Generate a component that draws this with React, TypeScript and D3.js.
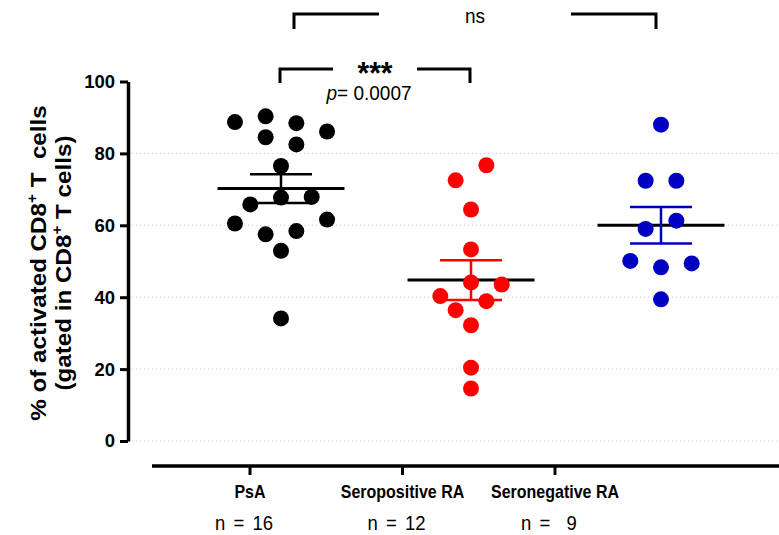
import { useEffect, useRef } from "react";
import * as d3 from "d3";

const groups = ["PsA", "Seropositive RA", "Seronegative RA"];
const groupSizes = ["n = 16", "n = 12", "n =  9"];
const groupColors = ["#000000", "#ff0000", "#0000c0"];

// values listed row by row, left to right, the way they sit in the scatter
const psaValues = [88.7, 90.3, 88.4, 86.1, 84.5, 82.5, 76.5, 65.8, 67.7, 67.9, 60.5, 57.5, 58.4, 61.6, 52.9, 34.1];
const seroPositiveValues = [72.5, 76.7, 64.4, 53.3, 40.3, 44.1, 43.5, 36.4, 38.9, 32.2, 20.4, 14.6];
const seroNegativeValues = [88.0, 72.4, 72.4, 59.0, 61.3, 50.1, 48.3, 49.4, 39.4];
const groupValues = [psaValues, seroPositiveValues, seroNegativeValues];

const yTicks = [0, 20, 40, 60, 80, 100];
const gridTicks = [0, 20, 40, 60, 80];

const WIDTH = 779;
const HEIGHT = 535;
const FONT = "'Liberation Sans', Arial, sans-serif";

// GraphPad-like scatter: bin into rows one dot high, spread each row symmetrically
const layoutScatter = (values, y, rowGap, colStep) => {
  const order = values.map((v, i) => ({ v, i })).sort((a, b) => b.v - a.v || a.i - b.i);
  const rows = [];
  order.forEach((item) => {
    const row = rows[rows.length - 1];
    if (row && y(item.v) - y(row[0].v) < rowGap) row.push(item);
    else rows.push([item]);
  });
  const out = [];
  rows.forEach((row) => {
    row.sort((a, b) => a.i - b.i);
    row.forEach((item, j) => out.push({ value: item.v, dx: (j - (row.length - 1) / 2) * colStep }));
  });
  return out;
};

export default function App() {
  const svgRef = useRef(null);

  useEffect(() => {
    if (!svgRef.current) return;
    const svg = d3.select(svgRef.current);
    svg.selectAll("*").remove();
    svg.attr("width", WIDTH).attr("height", HEIGHT).style("font-family", FONT);

    const y = d3.scaleLinear().domain([0, 100]).range([441, 81.5]);
    const x = d3.scalePoint().domain(groups).range([281, 661]);
    const xLabels = d3.scalePoint().domain(groups).range([250, 555]);
    const axisX = 128;
    const dotR = 8;

    // dotted grid
    svg
      .append("g")
      .selectAll("line")
      .data(gridTicks)
      .join("line")
      .attr("x1", axisX + 4)
      .attr("x2", WIDTH)
      .attr("y1", (t) => y(t))
      .attr("y2", (t) => y(t))
      .attr("stroke", "#d4d4d4")
      .attr("stroke-width", 1)
      .attr("stroke-dasharray", "1.3,2.7");

    // y axis
    svg
      .append("g")
      .attr("transform", `translate(${axisX},0)`)
      .call(d3.axisLeft(y).tickValues(yTicks).tickSize(8).tickSizeOuter(0).tickPadding(5))
      .call((g) => g.select("path").attr("stroke", "#000").attr("stroke-width", 3.5))
      .call((g) => g.selectAll("line").attr("stroke", "#000").attr("stroke-width", 3))
      .call((g) =>
        g
          .selectAll("text")
          .attr("fill", "#000")
          .attr("font-size", 18.5)
          .attr("font-weight", "bold")
          .attr("font-family", FONT)
      );

    // y title, two lines
    const title = svg
      .append("g")
      .attr("transform", `translate(0,263) rotate(-90) scale(1.1,1)`)
      .attr("font-weight", "bold")
      .attr("font-size", 22)
      .attr("text-anchor", "middle")
      .attr("fill", "#000");
    const line1 = title.append("text").attr("x", 0).attr("y", 46).attr("xml:space", "preserve");
    line1.append("tspan").text("% of activated CD8");
    line1.append("tspan").attr("font-size", 14).attr("dy", -9).text("+");
    line1.append("tspan").attr("dy", 9).text(" T  cells");
    const line2 = title.append("text").attr("x", 0).attr("y", 71);
    line2.append("tspan").text("(gated in CD8");
    line2.append("tspan").attr("font-size", 14).attr("dy", -9).text("+");
    line2.append("tspan").attr("dy", 9).text(" T cells)");

    // x axis (detached, GraphPad style)
    const xAxisY = 466;
    svg
      .append("line")
      .attr("x1", 152)
      .attr("x2", WIDTH)
      .attr("y1", xAxisY)
      .attr("y2", xAxisY)
      .attr("stroke", "#000")
      .attr("stroke-width", 3.5);
    svg
      .append("g")
      .selectAll("line")
      .data(groups)
      .join("line")
      .attr("x1", (g) => xLabels(g))
      .attr("x2", (g) => xLabels(g))
      .attr("y1", xAxisY)
      .attr("y2", xAxisY + 9)
      .attr("stroke", "#000")
      .attr("stroke-width", 3);
    svg
      .append("g")
      .selectAll("text")
      .data(groups)
      .join("text")
      .attr("transform", (g) => `translate(${xLabels(g)},498) scale(1,1.15)`)
      .attr("text-anchor", "middle")
      .attr("font-size", 16)
      .attr("font-weight", "bold")
      .text((g) => g);
    svg
      .append("g")
      .selectAll("text")
      .data(groups)
      .join("text")
      .attr("transform", (g) => `translate(${xLabels(g) - 6},530) scale(1,1.05)`)
      .attr("text-anchor", "middle")
      .attr("font-size", 18.5)
      .attr("word-spacing", 3)
      .attr("xml:space", "preserve")
      .text((g, i) => groupSizes[i]);

    // mean ± SEM
    const stats = groups.map((g, i) => {
      const vals = groupValues[i];
      const mean = d3.mean(vals);
      const sem = d3.deviation(vals) / Math.sqrt(vals.length);
      return { group: g, mean, sem, color: groupColors[i] };
    });
    const statLayer = svg.append("g");
    statLayer
      .selectAll("line.mean")
      .data(stats)
      .join("line")
      .attr("class", "mean")
      .attr("x1", (s) => x(s.group) - 63.5)
      .attr("x2", (s) => x(s.group) + 63.5)
      .attr("y1", (s) => y(s.mean))
      .attr("y2", (s) => y(s.mean))
      .attr("stroke", "#000")
      .attr("stroke-width", 3);
    statLayer
      .selectAll("line.err")
      .data(stats)
      .join("line")
      .attr("class", "err")
      .attr("x1", (s) => x(s.group))
      .attr("x2", (s) => x(s.group))
      .attr("y1", (s) => y(s.mean + s.sem))
      .attr("y2", (s) => y(s.mean - s.sem))
      .attr("stroke", (s) => s.color)
      .attr("stroke-width", 2.5);
    statLayer
      .selectAll("line.cap")
      .data(stats.flatMap((s) => [{ ...s, v: s.mean + s.sem }, { ...s, v: s.mean - s.sem }]))
      .join("line")
      .attr("class", "cap")
      .attr("x1", (s) => x(s.group) - 31)
      .attr("x2", (s) => x(s.group) + 31)
      .attr("y1", (s) => y(s.v))
      .attr("y2", (s) => y(s.v))
      .attr("stroke", (s) => s.color)
      .attr("stroke-width", 2.5);

    // dots
    groups.forEach((g, i) => {
      const pts = layoutScatter(groupValues[i], y, 16, 30.7);
      svg
        .append("g")
        .selectAll("circle")
        .data(pts)
        .join("circle")
        .attr("cx", (p) => x(g) + p.dx)
        .attr("cy", (p) => y(p.value))
        .attr("r", dotR)
        .attr("fill", groupColors[i]);
    });

    // significance brackets
    const bracket = (x1, x2, top, drop, gapHalf) => {
      const mid = (x1 + x2) / 2;
      const b = svg.append("g").attr("fill", "none").attr("stroke", "#000").attr("stroke-width", 3);
      b.append("path").attr("d", `M${x1},${top + drop}V${top}H${mid - gapHalf}`);
      b.append("path").attr("d", `M${mid + gapHalf},${top}H${x2}V${top + drop}`);
      return mid;
    };

    const nsMid = bracket(x("PsA") + 13, x("Seronegative RA") - 5, 14, 15, 96);
    svg
      .append("text")
      .attr("transform", `translate(${nsMid},23) scale(1,1.05)`)
      .attr("text-anchor", "middle")
      .attr("font-size", 19)
      .text("ns");

    const starMid = bracket(x("PsA") - 1, x("Seropositive RA") - 1, 69, 14, 42);
    svg
      .append("text")
      .attr("transform", `translate(${starMid},84) scale(1,1.05)`)
      .attr("text-anchor", "middle")
      .attr("font-size", 30)
      .attr("font-weight", "bold")
      .text("***");
    const pText = svg
      .append("text")
      .attr("transform", `translate(${starMid - 6},100) scale(1,1.05)`)
      .attr("text-anchor", "middle")
      .attr("font-size", 19)
      .attr("xml:space", "preserve");
    pText.append("tspan").attr("font-style", "italic").text("p");
    pText.append("tspan").text("= 0.0007");
  }, []);

  return (
    <div style={{ position: "absolute", left: 0, top: 0, width: WIDTH, height: HEIGHT, background: "#fff" }}>
      <svg ref={svgRef} />
    </div>
  );
}
